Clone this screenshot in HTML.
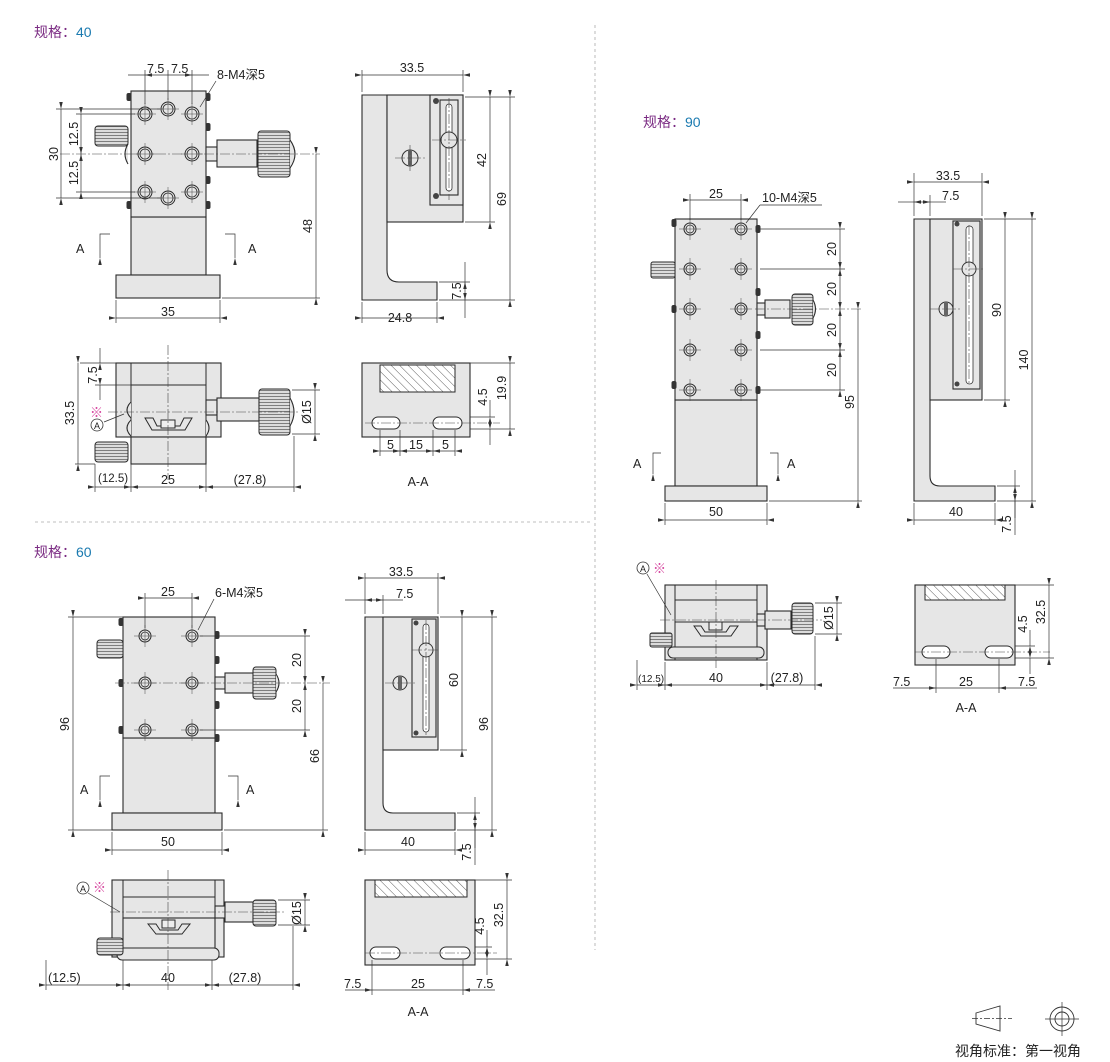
<!DOCTYPE html>
<html><head><meta charset="utf-8"><style>
html,body{margin:0;padding:0;background:#fff;}
svg{display:block;font-family:"Liberation Sans","Noto Sans CJK SC",sans-serif;}
.p{fill:#e6e6e6;stroke:#2a2a2a;stroke-width:1.1}
.pd{fill:#d6d6d6;stroke:#2a2a2a;stroke-width:1.1}
.d{stroke:#333;stroke-width:0.7;fill:none}
.da{stroke:#333;stroke-width:0.7;fill:none;marker-start:url(#a);marker-end:url(#a)}
.c{stroke:#444;stroke-width:0.6;fill:none;stroke-dasharray:10 2 2 2}
.k{fill:url(#kn);stroke:#2a2a2a;stroke-width:1}
text{font-size:12.5px;fill:#222}
.tt{font-size:14px}
</style></head><body>
<svg width="1110" height="1062" viewBox="0 0 1110 1062" xmlns="http://www.w3.org/2000/svg">
<defs>
<marker id="a" viewBox="0 0 10 10" refX="0" refY="5" markerWidth="7" markerHeight="7" orient="auto-start-reverse" markerUnits="userSpaceOnUse"><path d="M0 5 L10 2.5 L10 7.5 Z" fill="#333"/></marker>
<pattern id="kn" width="3" height="3" patternUnits="userSpaceOnUse"><rect width="3" height="3" fill="#dcdcdc"/><line x1="0" y1="0.5" x2="3" y2="0.5" stroke="#666" stroke-width="0.8"/></pattern>
<pattern id="kv" width="3" height="3" patternUnits="userSpaceOnUse"><rect width="3" height="3" fill="#dcdcdc"/><line x1="0.5" y1="0" x2="0.5" y2="3" stroke="#666" stroke-width="0.8"/></pattern>
<pattern id="ht" width="6" height="6" patternUnits="userSpaceOnUse" patternTransform="rotate(-45)"><rect width="6" height="6" fill="#fff"/><line x1="0" y1="0" x2="0" y2="6" stroke="#333" stroke-width="0.8"/></pattern>
<g id="h"><circle r="7" fill="#e6e6e6" stroke="#2a2a2a" stroke-width="1"/><circle r="5" fill="none" stroke="#2a2a2a" stroke-width="0.8"/><line x1="-11" y1="0" x2="11" y2="0" stroke="#444" stroke-width="0.5"/><line x1="0" y1="-11" x2="0" y2="11" stroke="#444" stroke-width="0.5"/></g>
<g id="hs"><circle r="6" fill="#e6e6e6" stroke="#2a2a2a" stroke-width="1"/><circle r="4" fill="none" stroke="#2a2a2a" stroke-width="0.8"/><line x1="-11" y1="0" x2="11" y2="0" stroke="#444" stroke-width="0.5"/><line x1="0" y1="-11" x2="0" y2="11" stroke="#444" stroke-width="0.5"/></g>
<g id="bolt"><rect x="-2.5" y="-4" width="5" height="8" rx="2" fill="#333"/></g>
</defs>

<!-- separators -->
<line x1="595" y1="25" x2="595" y2="950" stroke="#aaa" stroke-width="0.8" stroke-dasharray="3 3"/>
<line x1="35" y1="522" x2="590" y2="522" stroke="#aaa" stroke-width="0.8" stroke-dasharray="3 3"/>

<!-- titles -->
<text x="34" y="37" class="tt" fill="#7a2a82" style="fill:#7a2a82">规格：<tspan style="fill:#1a7ab0">40</tspan></text>
<text x="643" y="127" class="tt" style="fill:#7a2a82">规格：<tspan style="fill:#1a7ab0">90</tspan></text>
<text x="34" y="557" class="tt" style="fill:#7a2a82">规格：<tspan style="fill:#1a7ab0">60</tspan></text>

<!-- ================= SPEC 40 FRONT ================= -->
<rect class="p" x="131" y="217" width="75" height="58"/>
<rect class="p" x="116" y="275" width="104" height="23"/>
<rect class="p" x="131" y="91" width="75" height="126"/>
<rect class="k" x="95" y="126" width="33" height="20" rx="3"/>
<path class="p" d="M128 144 q-6 10 0 20" />
<rect class="p" x="206" y="147" width="11" height="14"/>
<rect class="p" x="217" y="140" width="40" height="27"/>
<rect class="k" x="258" y="131" width="32" height="46" rx="3"/>
<path class="p" d="M290 140 q10 14 0 28"/>
<use href="#bolt" x="129" y="97"/><use href="#bolt" x="129" y="205"/><use href="#bolt" x="208" y="97"/><use href="#bolt" x="208" y="127"/><use href="#bolt" x="208" y="180"/><use href="#bolt" x="208" y="205"/>
<line class="c" x1="60" y1="154" x2="320" y2="154"/>
<use href="#h" x="145" y="114"/><use href="#h" x="168" y="109"/><use href="#h" x="192" y="114"/>
<use href="#h" x="145" y="154"/><use href="#h" x="192" y="154"/>
<use href="#h" x="145" y="192"/><use href="#h" x="168" y="198"/><use href="#h" x="192" y="192"/>
<line class="d" x1="145" y1="70" x2="145" y2="104"/><line class="d" x1="168" y1="70" x2="168" y2="100"/><line class="d" x1="192" y1="70" x2="192" y2="104"/>
<line class="d" x1="128" y1="75" x2="145" y2="75" style="marker-end:url(#a)"/>
<line class="d" x1="209" y1="75" x2="192" y2="75" style="marker-end:url(#a)"/>
<line class="d" x1="145" y1="75" x2="192" y2="75"/>
<text x="147" y="73">7.5</text><text x="171" y="73">7.5</text>
<text x="217" y="79">8-M4深5</text>
<line class="d" x1="216" y1="81" x2="200" y2="107"/>
<line class="d" x1="56" y1="109" x2="160" y2="109"/><line class="d" x1="56" y1="198" x2="160" y2="198"/>
<line class="d" x1="76" y1="114" x2="135" y2="114"/><line class="d" x1="76" y1="192" x2="135" y2="192"/>
<line class="da" x1="61" y1="109" x2="61" y2="198"/>
<text transform="translate(58,154) rotate(-90)" text-anchor="middle">30</text>
<line class="da" x1="81" y1="114" x2="81" y2="154"/><line class="da" x1="81" y1="154" x2="81" y2="192"/>
<text transform="translate(78,134) rotate(-90)" text-anchor="middle">12.5</text>
<text transform="translate(78,173) rotate(-90)" text-anchor="middle">12.5</text>
<line class="da" x1="316" y1="154" x2="316" y2="298"/><line class="d" x1="222" y1="298" x2="320" y2="298"/>
<text transform="translate(312,226) rotate(-90)" text-anchor="middle">48</text>
<line class="d" x1="116" y1="300" x2="116" y2="323"/><line class="d" x1="220" y1="300" x2="220" y2="323"/>
<line class="da" x1="116" y1="318" x2="220" y2="318"/><text x="168" y="316" text-anchor="middle">35</text>
<path class="d" d="M110 234 H100 V258" style="marker-end:url(#a)"/><text x="76" y="253">A</text>
<path class="d" d="M225 234 H235 V258" style="marker-end:url(#a)"/><text x="248" y="253">A</text>

<!-- SPEC 40 SIDE -->
<path class="p" d="M362 95 H387 V270 Q387 282 399 282 H437 V300 H362 Z"/>
<rect class="p" x="387" y="95" width="76" height="127"/>
<rect class="p" x="430" y="95" width="33" height="110"/>
<rect class="p" x="440" y="100" width="18" height="95"/>
<rect x="446" y="104" width="6" height="87" rx="3" fill="#fff" stroke="#333" stroke-width="0.8"/>
<circle cx="449" cy="140" r="8" fill="#e6e6e6" stroke="#333"/>
<circle cx="410" cy="158" r="8" fill="#e6e6e6" stroke="#333"/><rect x="408" y="150" width="4" height="16" fill="#666"/>
<line class="c" x1="395" y1="158" x2="425" y2="158"/><line class="c" x1="410" y1="145" x2="410" y2="172"/>
<line class="c" x1="449" y1="98" x2="449" y2="200"/><line class="c" x1="432" y1="140" x2="466" y2="140"/>
<circle cx="436" cy="101" r="3" fill="#444"/><circle cx="436" cy="196" r="3" fill="#444"/>
<line class="d" x1="362" y1="70" x2="362" y2="92"/><line class="d" x1="463" y1="70" x2="463" y2="92"/>
<line class="da" x1="362" y1="75" x2="463" y2="75"/><text x="412" y="72" text-anchor="middle">33.5</text>
<line class="d" x1="465" y1="97" x2="515" y2="97"/><line class="d" x1="465" y1="222" x2="495" y2="222"/><line class="d" x1="439" y1="300" x2="515" y2="300"/><line class="d" x1="439" y1="282" x2="470" y2="282"/>
<line class="da" x1="490" y1="97" x2="490" y2="222"/><text transform="translate(486,160) rotate(-90)" text-anchor="middle">42</text>
<line class="da" x1="510" y1="97" x2="510" y2="300"/><text transform="translate(506,199) rotate(-90)" text-anchor="middle">69</text>
<line class="d" x1="465" y1="262" x2="465" y2="282" style="marker-end:url(#a)"/><line class="d" x1="465" y1="318" x2="465" y2="300" style="marker-end:url(#a)"/><line class="d" x1="465" y1="282" x2="465" y2="300"/>
<text transform="translate(461,291) rotate(-90)" text-anchor="middle">7.5</text>
<line class="d" x1="362" y1="302" x2="362" y2="323"/><line class="d" x1="437" y1="302" x2="437" y2="323"/>
<line class="da" x1="362" y1="318" x2="437" y2="318"/><text x="400" y="322" text-anchor="middle">24.8</text>

<!-- SPEC 40 TOP -->
<rect class="p" x="116" y="363" width="105" height="74"/>
<line class="d" x1="131" y1="363" x2="131" y2="437" style="stroke:#2a2a2a;stroke-width:1"/><line class="d" x1="206" y1="363" x2="206" y2="437" style="stroke:#2a2a2a;stroke-width:1"/>
<line x1="131" y1="385" x2="206" y2="385" stroke="#2a2a2a"/>
<rect class="p" x="131" y="437" width="75" height="27"/>
<rect class="k" x="95" y="442" width="33" height="20" rx="3"/>
<path fill="#e6e6e6" stroke="#2a2a2a" d="M145 418 L152 430 H185 L192 418 H184 L180 426 H157 L153 418 Z"/>
<rect x="161" y="420" width="14" height="8" fill="#eee" stroke="#2a2a2a"/>
<path class="p" d="M131 402 q-8 8 0 16"/><path class="p" d="M131 420 q-8 8 0 16"/><path class="p" d="M206 420 q6 8 0 16"/>
<rect class="p" x="206" y="400" width="11" height="15"/>
<rect class="p" x="217" y="398" width="42" height="23"/>
<rect class="k" x="259" y="389" width="31" height="46" rx="3"/>
<path class="p" d="M290 398 q8 14 0 28"/>
<line class="c" x1="108" y1="412" x2="300" y2="412"/><line class="c" x1="168" y1="345" x2="168" y2="480"/>
<text x="90" y="417" style="fill:#d43c9a;font-size:13px">※</text>
<circle cx="97" cy="425" r="6" fill="#fff" stroke="#333" stroke-width="0.8"/><text x="97" y="429" text-anchor="middle" style="font-size:9px">A</text>
<line class="d" x1="104" y1="422" x2="124" y2="414"/>
<line class="d" x1="80" y1="363" x2="116" y2="363"/><line class="d" x1="95" y1="385" x2="131" y2="385"/><line class="d" x1="75" y1="464" x2="95" y2="464"/>
<line class="d" x1="100" y1="348" x2="100" y2="363" style="marker-end:url(#a)"/><line class="d" x1="100" y1="400" x2="100" y2="385" style="marker-end:url(#a)"/>
<text transform="translate(97,375) rotate(-90)" text-anchor="middle">7.5</text>
<line class="da" x1="78" y1="363" x2="78" y2="464"/><text transform="translate(74,413) rotate(-90)" text-anchor="middle">33.5</text>
<line class="d" x1="292" y1="390" x2="320" y2="390"/><line class="d" x1="292" y1="434" x2="320" y2="434"/>
<line class="da" x1="315" y1="390" x2="315" y2="434"/><text transform="translate(311,412) rotate(-90)" text-anchor="middle">Ø15</text>
<line class="d" x1="95" y1="464" x2="95" y2="492"/><line class="d" x1="131" y1="464" x2="131" y2="492"/><line class="d" x1="206" y1="464" x2="206" y2="492"/><line class="d" x1="294" y1="436" x2="294" y2="492"/>
<line class="da" x1="95" y1="487" x2="131" y2="487"/><line class="da" x1="131" y1="487" x2="206" y2="487"/><line class="da" x1="206" y1="487" x2="294" y2="487"/>
<text x="98" y="482" style="font-size:11.5px">(12.5)</text><text x="168" y="484" text-anchor="middle">25</text><text x="250" y="484" text-anchor="middle">(27.8)</text>

<!-- SPEC 40 A-A -->
<rect class="p" x="362" y="363" width="108" height="74"/>
<rect x="380" y="365" width="75" height="27" fill="url(#ht)" stroke="#2a2a2a"/>
<rect x="372" y="417" width="28" height="12" rx="6" fill="#fff" stroke="#2a2a2a"/><rect x="433" y="417" width="29" height="12" rx="6" fill="#fff" stroke="#2a2a2a"/>
<line class="c" x1="365" y1="423" x2="500" y2="423"/>
<line class="d" x1="470" y1="363" x2="515" y2="363"/><line class="d" x1="470" y1="417" x2="495" y2="417"/><line class="d" x1="470" y1="429" x2="515" y2="429"/>
<line class="d" x1="490" y1="400" x2="490" y2="417" style="marker-end:url(#a)"/><line class="d" x1="490" y1="445" x2="490" y2="429" style="marker-end:url(#a)"/>
<text transform="translate(487,397) rotate(-90)" text-anchor="middle">4.5</text>
<line class="da" x1="510" y1="363" x2="510" y2="429"/><text transform="translate(506,388) rotate(-90)" text-anchor="middle">19.9</text>
<line class="d" x1="380" y1="430" x2="380" y2="456"/><line class="d" x1="400" y1="430" x2="400" y2="456"/><line class="d" x1="433" y1="430" x2="433" y2="456"/><line class="d" x1="455" y1="430" x2="455" y2="456"/>
<line class="da" x1="380" y1="451" x2="400" y2="451"/><line class="da" x1="400" y1="451" x2="433" y2="451"/><line class="da" x1="433" y1="451" x2="455" y2="451"/>
<text x="387" y="449">5</text><text x="416" y="449" text-anchor="middle">15</text><text x="442" y="449">5</text>
<text x="418" y="486" text-anchor="middle">A-A</text>

<!-- ================= SPEC 60 FRONT ================= -->
<rect class="p" x="123" y="738" width="92" height="75"/>
<rect class="p" x="112" y="813" width="110" height="17"/>
<rect class="p" x="123" y="617" width="92" height="121"/>
<rect class="k" x="97" y="640" width="26" height="18" rx="3"/>
<rect class="p" x="215" y="677" width="10" height="12"/>
<rect class="p" x="225" y="673" width="28" height="20"/>
<rect class="k" x="253" y="667" width="23" height="32" rx="3"/>
<path class="p" d="M276 674 q6 9 0 18"/>
<use href="#bolt" x="121" y="622"/><use href="#bolt" x="121" y="683"/><use href="#bolt" x="121" y="730"/><use href="#bolt" x="217" y="635"/><use href="#bolt" x="217" y="660"/><use href="#bolt" x="217" y="705"/><use href="#bolt" x="217" y="738"/>
<line class="c" x1="115" y1="683" x2="330" y2="683"/>
<use href="#hs" x="145" y="636"/><use href="#hs" x="192" y="636"/><use href="#hs" x="145" y="683"/><use href="#hs" x="192" y="683"/><use href="#hs" x="145" y="730"/><use href="#hs" x="192" y="730"/>
<line class="d" x1="145" y1="593" x2="145" y2="628"/><line class="d" x1="192" y1="593" x2="192" y2="628"/>
<line class="da" x1="145" y1="598" x2="192" y2="598"/><text x="168" y="596" text-anchor="middle">25</text>
<text x="215" y="597">6-M4深5</text><line class="d" x1="214" y1="599" x2="198" y2="630"/>
<line class="d" x1="200" y1="636" x2="310" y2="636"/><line class="d" x1="200" y1="730" x2="310" y2="730"/>
<line class="da" x1="305" y1="636" x2="305" y2="683"/><line class="da" x1="305" y1="683" x2="305" y2="730"/>
<text transform="translate(301,660) rotate(-90)" text-anchor="middle">20</text><text transform="translate(301,706) rotate(-90)" text-anchor="middle">20</text>
<line class="d" x1="68" y1="617" x2="123" y2="617"/><line class="d" x1="68" y1="830" x2="112" y2="830"/>
<line class="da" x1="73" y1="617" x2="73" y2="830"/><text transform="translate(69,724) rotate(-90)" text-anchor="middle">96</text>
<line class="da" x1="323" y1="683" x2="323" y2="830"/><line class="d" x1="224" y1="830" x2="328" y2="830"/>
<text transform="translate(319,756) rotate(-90)" text-anchor="middle">66</text>
<line class="d" x1="112" y1="832" x2="112" y2="855"/><line class="d" x1="222" y1="832" x2="222" y2="855"/>
<line class="da" x1="112" y1="850" x2="222" y2="850"/><text x="168" y="846" text-anchor="middle">50</text>
<path class="d" d="M110 776 H100 V800" style="marker-end:url(#a)"/><text x="80" y="794">A</text>
<path class="d" d="M228 776 H238 V800" style="marker-end:url(#a)"/><text x="246" y="794">A</text>

<!-- SPEC 60 SIDE -->
<path class="p" d="M365 617 H383 V803 Q383 813 393 813 H455 V830 H365 Z"/>
<rect class="p" x="383" y="617" width="55" height="133"/>
<rect class="p" x="412" y="619" width="24" height="118"/>
<rect x="423" y="624" width="6" height="108" rx="3" fill="#fff" stroke="#333" stroke-width="0.8"/>
<circle cx="426" cy="650" r="7" fill="#e6e6e6" stroke="#333"/>
<circle cx="400" cy="683" r="7" fill="#e6e6e6" stroke="#333"/><rect x="398" y="676" width="4" height="14" fill="#666"/>
<line class="c" x1="385" y1="683" x2="416" y2="683"/><line class="c" x1="426" y1="620" x2="426" y2="735"/><line class="c" x1="412" y1="650" x2="440" y2="650"/>
<circle cx="416" cy="623" r="2.5" fill="#444"/><circle cx="416" cy="733" r="2.5" fill="#444"/>
<line class="d" x1="365" y1="573" x2="365" y2="614"/><line class="d" x1="383" y1="595" x2="383" y2="614"/><line class="d" x1="438" y1="573" x2="438" y2="614"/>
<line class="da" x1="365" y1="578" x2="438" y2="578"/><text x="401" y="576" text-anchor="middle">33.5</text>
<line class="d" x1="345" y1="600" x2="365" y2="600" style="marker-end:url(#a)"/><line class="d" x1="403" y1="600" x2="383" y2="600" style="marker-end:url(#a)"/><line class="d" x1="365" y1="600" x2="383" y2="600"/>
<text x="396" y="598">7.5</text>
<line class="d" x1="440" y1="617" x2="497" y2="617"/><line class="d" x1="440" y1="750" x2="467" y2="750"/><line class="d" x1="457" y1="830" x2="497" y2="830"/><line class="d" x1="457" y1="813" x2="480" y2="813"/>
<line class="da" x1="462" y1="617" x2="462" y2="750"/><text transform="translate(458,680) rotate(-90)" text-anchor="middle">60</text>
<line class="da" x1="492" y1="617" x2="492" y2="830"/><text transform="translate(488,724) rotate(-90)" text-anchor="middle">96</text>
<line class="d" x1="475" y1="797" x2="475" y2="813" style="marker-end:url(#a)"/><line class="d" x1="475" y1="848" x2="475" y2="830" style="marker-end:url(#a)"/><line class="d" x1="475" y1="813" x2="475" y2="865"/>
<text transform="translate(471,852) rotate(-90)" text-anchor="middle">7.5</text>
<line class="d" x1="365" y1="832" x2="365" y2="855"/><line class="d" x1="455" y1="832" x2="455" y2="855"/>
<line class="da" x1="365" y1="850" x2="455" y2="850"/><text x="408" y="846" text-anchor="middle">40</text>

<!-- SPEC 60 TOP -->
<rect class="p" x="112" y="880" width="112" height="77"/>
<line x1="123" y1="880" x2="123" y2="957" stroke="#2a2a2a"/><line x1="215" y1="880" x2="215" y2="957" stroke="#2a2a2a"/>
<line x1="123" y1="897" x2="215" y2="897" stroke="#2a2a2a"/>
<rect class="p" x="123" y="918" width="92" height="39"/>
<path fill="#e6e6e6" stroke="#2a2a2a" d="M148 924 L156 934 H182 L190 924 H182 L178 930 H160 L156 924 Z"/>
<rect x="162" y="920" width="13" height="8" fill="#eee" stroke="#2a2a2a"/>
<rect x="117" y="948" width="102" height="12" rx="5" fill="#e6e6e6" stroke="#2a2a2a"/>
<rect class="k" x="97" y="938" width="26" height="17" rx="3"/>
<rect class="p" x="215" y="906" width="10" height="12"/>
<rect class="p" x="225" y="902" width="28" height="20"/>
<rect class="k" x="253" y="900" width="23" height="26" rx="3"/>
<line class="c" x1="110" y1="912" x2="285" y2="912"/><line class="c" x1="168" y1="870" x2="168" y2="990"/>
<circle cx="83" cy="888" r="6" fill="#fff" stroke="#333" stroke-width="0.8"/><text x="83" y="892" text-anchor="middle" style="font-size:9px">A</text>
<text x="93" y="892" style="fill:#d43c9a;font-size:13px">※</text>
<line class="d" x1="88" y1="893" x2="120" y2="912"/>
<line class="d" x1="278" y1="900" x2="310" y2="900"/><line class="d" x1="278" y1="925" x2="310" y2="925"/>
<line class="da" x1="305" y1="900" x2="305" y2="925"/><text transform="translate(301,913) rotate(-90)" text-anchor="middle">Ø15</text>
<line class="d" x1="46" y1="960" x2="46" y2="990"/><line class="d" x1="123" y1="960" x2="123" y2="990"/><line class="d" x1="212" y1="960" x2="212" y2="990"/><line class="d" x1="293" y1="926" x2="293" y2="990"/>
<line class="da" x1="46" y1="985" x2="123" y2="985"/><line class="da" x1="123" y1="985" x2="212" y2="985"/><line class="da" x1="212" y1="985" x2="293" y2="985"/>
<text x="48" y="982">(12.5)</text><text x="168" y="982" text-anchor="middle">40</text><text x="245" y="982" text-anchor="middle">(27.8)</text>

<!-- SPEC 60 A-A -->
<rect class="p" x="365" y="880" width="110" height="85"/>
<rect x="375" y="880" width="92" height="17" fill="url(#ht)" stroke="#2a2a2a"/>
<rect x="370" y="947" width="30" height="12" rx="6" fill="#fff" stroke="#2a2a2a"/><rect x="440" y="947" width="30" height="12" rx="6" fill="#fff" stroke="#2a2a2a"/>
<line class="c" x1="365" y1="953" x2="497" y2="953"/>
<line class="d" x1="475" y1="880" x2="512" y2="880"/><line class="d" x1="475" y1="947" x2="492" y2="947"/><line class="d" x1="475" y1="959" x2="512" y2="959"/>
<line class="d" x1="487" y1="930" x2="487" y2="947" style="marker-end:url(#a)"/><line class="d" x1="487" y1="975" x2="487" y2="959" style="marker-end:url(#a)"/>
<text transform="translate(484,926) rotate(-90)" text-anchor="middle">4.5</text>
<line class="da" x1="507" y1="880" x2="507" y2="959"/><text transform="translate(503,915) rotate(-90)" text-anchor="middle">32.5</text>
<line class="d" x1="372" y1="960" x2="372" y2="995"/><line class="d" x1="463" y1="960" x2="463" y2="995"/>
<line class="d" x1="345" y1="990" x2="372" y2="990"/><line class="da" x1="372" y1="990" x2="463" y2="990"/><line class="d" x1="463" y1="990" x2="495" y2="990"/>
<text x="344" y="988">7.5</text><text x="418" y="988" text-anchor="middle">25</text><text x="476" y="988">7.5</text>
<text x="418" y="1016" text-anchor="middle">A-A</text>

<!-- ================= SPEC 90 FRONT ================= -->
<rect class="p" x="675" y="400" width="82" height="86"/>
<rect class="p" x="665" y="486" width="102" height="15"/>
<rect class="p" x="675" y="219" width="82" height="181"/>
<rect class="k" x="651" y="262" width="24" height="16" rx="2"/>
<rect class="p" x="757" y="303" width="8" height="12"/>
<rect class="p" x="765" y="300" width="25" height="18"/>
<rect class="k" x="792" y="294" width="21" height="31" rx="3"/>
<path class="p" d="M813 300 q5 9 0 18"/>
<use href="#bolt" x="674" y="223"/><use href="#bolt" x="674" y="309"/><use href="#bolt" x="674" y="385"/><use href="#bolt" x="758" y="229"/><use href="#bolt" x="758" y="292"/><use href="#bolt" x="758" y="335"/><use href="#bolt" x="758" y="390"/>
<line class="c" x1="755" y1="309" x2="862" y2="309"/>
<use href="#hs" x="690" y="229"/><use href="#hs" x="741" y="229"/><use href="#hs" x="690" y="269"/><use href="#hs" x="741" y="269"/><use href="#hs" x="690" y="309"/><use href="#hs" x="741" y="309"/><use href="#hs" x="690" y="350"/><use href="#hs" x="741" y="350"/><use href="#hs" x="690" y="390"/><use href="#hs" x="741" y="390"/>
<line class="d" x1="690" y1="194" x2="690" y2="220"/><line class="d" x1="741" y1="194" x2="741" y2="220"/>
<line class="da" x1="690" y1="200" x2="741" y2="200"/><text x="716" y="198" text-anchor="middle">25</text>
<text x="762" y="202">10-M4深5</text><line class="d" x1="822" y1="205" x2="760" y2="205"/><line class="d" x1="760" y1="205" x2="746" y2="223"/>
<line class="d" x1="760" y1="229" x2="845" y2="229"/><line class="d" x1="760" y1="269" x2="845" y2="269"/><line class="d" x1="760" y1="350" x2="845" y2="350"/><line class="d" x1="760" y1="390" x2="845" y2="390"/>
<line class="da" x1="840" y1="229" x2="840" y2="269"/><line class="da" x1="840" y1="269" x2="840" y2="309"/><line class="da" x1="840" y1="309" x2="840" y2="350"/><line class="da" x1="840" y1="350" x2="840" y2="390"/>
<text transform="translate(836,249) rotate(-90)" text-anchor="middle">20</text><text transform="translate(836,289) rotate(-90)" text-anchor="middle">20</text><text transform="translate(836,330) rotate(-90)" text-anchor="middle">20</text><text transform="translate(836,370) rotate(-90)" text-anchor="middle">20</text>
<line class="da" x1="858" y1="309" x2="858" y2="501"/><line class="d" x1="769" y1="501" x2="862" y2="501"/>
<text transform="translate(854,402) rotate(-90)" text-anchor="middle">95</text>
<line class="d" x1="665" y1="503" x2="665" y2="525"/><line class="d" x1="767" y1="503" x2="767" y2="525"/>
<line class="da" x1="665" y1="520" x2="767" y2="520"/><text x="716" y="516" text-anchor="middle">50</text>
<path class="d" d="M661 453 H653 V474" style="marker-end:url(#a)"/><text x="633" y="468">A</text>
<path class="d" d="M770 453 H778 V474" style="marker-end:url(#a)"/><text x="787" y="468">A</text>

<!-- SPEC 90 SIDE -->
<path class="p" d="M914 219 H930 V476 Q930 486 940 486 H995 V501 H914 Z"/>
<rect class="p" x="930" y="219" width="52" height="181"/>
<rect class="p" x="953" y="221" width="27" height="168"/>
<rect x="966" y="226" width="7" height="158" rx="3.5" fill="#fff" stroke="#333" stroke-width="0.8"/>
<circle cx="969" cy="269" r="7" fill="#e6e6e6" stroke="#333"/>
<circle cx="946" cy="309" r="7" fill="#e6e6e6" stroke="#333"/><rect x="944" y="302" width="4" height="14" fill="#666"/>
<line class="c" x1="930" y1="309" x2="962" y2="309"/><line class="c" x1="969" y1="225" x2="969" y2="385"/><line class="c" x1="953" y1="269" x2="983" y2="269"/>
<circle cx="957" cy="224" r="2.5" fill="#444"/><circle cx="957" cy="384" r="2.5" fill="#444"/>
<line class="d" x1="914" y1="173" x2="914" y2="216"/><line class="d" x1="930" y1="195" x2="930" y2="216"/><line class="d" x1="982" y1="173" x2="982" y2="216"/>
<line class="da" x1="914" y1="182" x2="982" y2="182"/><text x="948" y="180" text-anchor="middle">33.5</text>
<line class="d" x1="898" y1="202" x2="914" y2="202" style="marker-end:url(#a)"/><line class="d" x1="946" y1="202" x2="930" y2="202" style="marker-end:url(#a)"/><line class="d" x1="914" y1="202" x2="930" y2="202"/>
<text x="942" y="200">7.5</text>
<line class="d" x1="984" y1="219" x2="1036" y2="219"/><line class="d" x1="984" y1="400" x2="1010" y2="400"/><line class="d" x1="997" y1="501" x2="1036" y2="501"/><line class="d" x1="997" y1="486" x2="1020" y2="486"/>
<line class="da" x1="1005" y1="219" x2="1005" y2="400"/><text transform="translate(1001,310) rotate(-90)" text-anchor="middle">90</text>
<line class="da" x1="1032" y1="219" x2="1032" y2="501"/><text transform="translate(1028,360) rotate(-90)" text-anchor="middle">140</text>
<line class="d" x1="1015" y1="470" x2="1015" y2="486" style="marker-end:url(#a)"/><line class="d" x1="1015" y1="518" x2="1015" y2="501" style="marker-end:url(#a)"/><line class="d" x1="1015" y1="486" x2="1015" y2="535"/>
<text transform="translate(1011,524) rotate(-90)" text-anchor="middle">7.5</text>
<line class="d" x1="914" y1="503" x2="914" y2="525"/><line class="d" x1="995" y1="503" x2="995" y2="525"/>
<line class="da" x1="914" y1="520" x2="995" y2="520"/><text x="956" y="516" text-anchor="middle">40</text>

<!-- SPEC 90 TOP -->
<rect class="p" x="665" y="585" width="102" height="75"/>
<line x1="675" y1="585" x2="675" y2="660" stroke="#2a2a2a"/><line x1="757" y1="585" x2="757" y2="660" stroke="#2a2a2a"/>
<line x1="675" y1="600" x2="757" y2="600" stroke="#2a2a2a"/>
<line x1="675" y1="622" x2="757" y2="622" stroke="#2a2a2a"/>
<path fill="#e6e6e6" stroke="#2a2a2a" d="M694 626 L701 636 H731 L738 626 H730 L726 632 H705 L701 626 Z"/>
<rect x="709" y="622" width="13" height="8" fill="#eee" stroke="#2a2a2a"/>
<rect x="668" y="647" width="96" height="11" rx="5" fill="#e6e6e6" stroke="#2a2a2a"/>
<rect class="k" x="650" y="633" width="22" height="14" rx="2"/>
<rect class="p" x="757" y="614" width="8" height="12"/>
<rect class="p" x="765" y="611" width="26" height="18"/>
<rect class="k" x="792" y="603" width="21" height="31" rx="3"/>
<line class="c" x1="660" y1="620" x2="822" y2="620"/><line class="c" x1="716" y1="580" x2="716" y2="668"/>
<circle cx="643" cy="568" r="6" fill="#fff" stroke="#333" stroke-width="0.8"/><text x="643" y="572" text-anchor="middle" style="font-size:9px">A</text>
<text x="653" y="573" style="fill:#d43c9a;font-size:13px">※</text>
<line class="d" x1="647" y1="574" x2="671" y2="615"/>
<line class="d" x1="815" y1="603" x2="842" y2="603"/><line class="d" x1="815" y1="634" x2="842" y2="634"/>
<line class="da" x1="837" y1="603" x2="837" y2="634"/><text transform="translate(833,618) rotate(-90)" text-anchor="middle">Ø15</text>
<line class="d" x1="637" y1="660" x2="637" y2="690"/><line class="d" x1="665" y1="662" x2="665" y2="690"/><line class="d" x1="767" y1="662" x2="767" y2="690"/><line class="d" x1="815" y1="636" x2="815" y2="690"/>
<line class="da" x1="637" y1="685" x2="665" y2="685"/><line class="da" x1="665" y1="685" x2="767" y2="685"/><line class="da" x1="767" y1="685" x2="815" y2="685"/>
<text x="638" y="682" style="font-size:10px">(12.5)</text><text x="716" y="682" text-anchor="middle">40</text><text x="787" y="682" text-anchor="middle">(27.8)</text>

<!-- SPEC 90 A-A -->
<rect class="p" x="915" y="585" width="100" height="80"/>
<rect x="925" y="585" width="80" height="15" fill="url(#ht)" stroke="#2a2a2a"/>
<rect x="922" y="646" width="28" height="12" rx="6" fill="#fff" stroke="#2a2a2a"/><rect x="985" y="646" width="28" height="12" rx="6" fill="#fff" stroke="#2a2a2a"/>
<line class="c" x1="915" y1="652" x2="1050" y2="652"/>
<line class="d" x1="1015" y1="585" x2="1054" y2="585"/><line class="d" x1="1015" y1="646" x2="1035" y2="646"/><line class="d" x1="1015" y1="658" x2="1054" y2="658"/>
<line class="d" x1="1030" y1="630" x2="1030" y2="646" style="marker-end:url(#a)"/><line class="d" x1="1030" y1="674" x2="1030" y2="658" style="marker-end:url(#a)"/>
<text transform="translate(1027,624) rotate(-90)" text-anchor="middle">4.5</text>
<line class="da" x1="1049" y1="585" x2="1049" y2="658"/><text transform="translate(1045,612) rotate(-90)" text-anchor="middle">32.5</text>
<line class="d" x1="936" y1="659" x2="936" y2="693"/><line class="d" x1="999" y1="659" x2="999" y2="693"/>
<line class="d" x1="893" y1="688" x2="936" y2="688"/><line class="da" x1="936" y1="688" x2="999" y2="688"/><line class="d" x1="999" y1="688" x2="1037" y2="688"/>
<text x="893" y="686">7.5</text><text x="966" y="686" text-anchor="middle">25</text><text x="1018" y="686">7.5</text>
<text x="966" y="712" text-anchor="middle">A-A</text>

<!-- projection symbol -->
<path d="M976 1013 L1000 1006 V1031 L976 1024 Z" fill="none" stroke="#333" stroke-width="0.9"/>
<line class="d" x1="972" y1="1018.5" x2="1012" y2="1018.5" style="stroke-dasharray:6 2 2 2"/>
<circle cx="1062" cy="1019" r="12" fill="none" stroke="#333" stroke-width="0.9"/>
<circle cx="1062" cy="1019" r="7" fill="none" stroke="#333" stroke-width="0.9"/>
<line class="d" x1="1045" y1="1019" x2="1079" y2="1019"/><line class="d" x1="1062" y1="1002" x2="1062" y2="1036"/>
<text x="955" y="1056" style="font-size:14px">视角标准：第一视角</text>
</svg>
</body></html>
